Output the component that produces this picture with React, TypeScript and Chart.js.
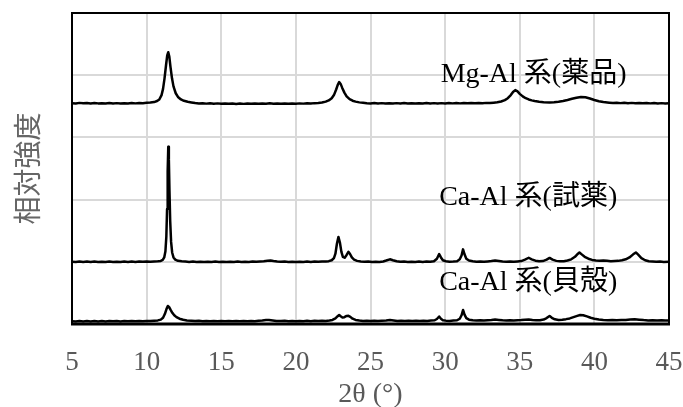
import React, { useEffect, useRef } from "react";
import { Chart, registerables } from "chart.js";

Chart.register(...registerables);

// 2θ (°) vs relative intensity (arbitrary units, stacked traces)
const xTickValues = [5, 10, 15, 20, 25, 30, 35, 40, 45];

const mgAlDrug: [number, number][] = [
  [5, 3.55], [5.25, 3.545], [5.5, 3.555], [5.75, 3.548], [6, 3.552], [6.25, 3.545], [6.5, 3.553], [6.75, 3.547],
  [7, 3.55], [7.25, 3.544], [7.5, 3.552], [7.75, 3.546], [8, 3.551], [8.25, 3.545], [8.5, 3.55], [8.75, 3.546],
  [9, 3.552], [9.25, 3.547], [9.5, 3.553], [9.75, 3.55], [10, 3.556], [10.25, 3.56], [10.5, 3.568], [10.7, 3.585],
  [10.85, 3.61], [11.0, 3.68], [11.1, 3.78], [11.2, 3.95], [11.3, 4.16], [11.38, 4.32], [11.45, 4.37], [11.52, 4.3],
  [11.6, 4.13], [11.7, 3.95], [11.8, 3.82], [11.95, 3.71], [12.1, 3.65], [12.3, 3.61], [12.5, 3.588], [12.75, 3.572],
  [13, 3.562], [13.25, 3.552], [13.5, 3.545], [13.75, 3.55], [14, 3.543], [14.25, 3.548], [14.5, 3.542], [14.75, 3.547],
  [15, 3.54], [15.25, 3.546], [15.5, 3.54], [15.75, 3.545], [16, 3.538], [16.25, 3.544], [16.5, 3.539], [16.75, 3.545],
  [17, 3.54], [17.25, 3.546], [17.5, 3.54], [17.75, 3.545], [18, 3.542], [18.25, 3.548], [18.5, 3.541], [18.75, 3.546],
  [19, 3.54], [19.25, 3.545], [19.5, 3.54], [19.75, 3.546], [20, 3.542], [20.25, 3.547], [20.5, 3.543], [20.75, 3.549],
  [21, 3.545], [21.25, 3.551], [21.5, 3.553], [21.75, 3.56], [22, 3.575], [22.2, 3.595], [22.4, 3.63], [22.55, 3.68],
  [22.7, 3.77], [22.8, 3.84], [22.9, 3.89], [23.0, 3.86], [23.1, 3.8], [23.25, 3.72], [23.4, 3.66], [23.6, 3.615],
  [23.8, 3.59], [24.0, 3.575], [24.25, 3.563], [24.5, 3.556], [24.75, 3.55], [25, 3.546], [25.25, 3.552], [25.5, 3.545],
  [25.75, 3.551], [26, 3.544], [26.25, 3.55], [26.5, 3.545], [26.75, 3.551], [27, 3.546], [27.25, 3.552], [27.5, 3.545],
  [27.75, 3.55], [28, 3.544], [28.25, 3.55], [28.5, 3.546], [28.75, 3.552], [29, 3.546], [29.25, 3.551], [29.5, 3.545],
  [29.75, 3.551], [30, 3.546], [30.25, 3.552], [30.5, 3.547], [30.75, 3.553], [31, 3.547], [31.25, 3.552], [31.5, 3.548],
  [31.75, 3.553], [32, 3.548], [32.25, 3.554], [32.5, 3.549], [32.75, 3.555], [33, 3.552], [33.25, 3.558], [33.5, 3.564],
  [33.75, 3.577], [34, 3.6], [34.2, 3.63], [34.4, 3.68], [34.55, 3.73], [34.7, 3.76], [34.85, 3.74], [35, 3.7],
  [35.2, 3.66], [35.4, 3.63], [35.6, 3.61], [35.8, 3.595], [36, 3.585], [36.3, 3.574], [36.6, 3.566], [37, 3.56],
  [37.3, 3.566], [37.6, 3.574], [37.9, 3.586], [38.2, 3.602], [38.5, 3.62], [38.8, 3.638], [39.1, 3.65], [39.4, 3.645],
  [39.7, 3.626], [40, 3.602], [40.3, 3.582], [40.6, 3.568], [41, 3.558], [41.25, 3.553], [41.5, 3.557], [41.75, 3.551],
  [42, 3.556], [42.25, 3.55], [42.5, 3.555], [42.75, 3.549], [43, 3.554], [43.25, 3.548], [43.5, 3.553], [43.75, 3.547],
  [44, 3.552], [44.25, 3.546], [44.5, 3.551], [44.75, 3.546], [45, 3.55],
];

const caAlReagent: [number, number][] = [
  [5, 1.0], [5.25, 0.995], [5.5, 1.004], [5.75, 0.997], [6, 1.003], [6.25, 0.996], [6.5, 1.004], [6.75, 0.997],
  [7, 1.002], [7.25, 0.996], [7.5, 1.003], [7.75, 0.997], [8, 1.002], [8.25, 0.996], [8.5, 1.003], [8.75, 0.998],
  [9, 1.003], [9.25, 0.997], [9.5, 1.004], [9.75, 0.999], [10, 1.004], [10.25, 1.0], [10.5, 1.005], [10.75, 1.008],
  [10.95, 1.014], [11.08, 1.03], [11.18, 1.07], [11.26, 1.17], [11.32, 1.4], [11.37, 1.85], [11.41, 2.45], [11.45, 2.85],
  [11.49, 2.65], [11.53, 2.15], [11.58, 1.65], [11.64, 1.32], [11.71, 1.15], [11.8, 1.07], [11.92, 1.035], [12.1, 1.016],
  [12.35, 1.008], [12.6, 1.003], [12.85, 0.998], [13.1, 1.003], [13.35, 0.997], [13.6, 1.002], [13.85, 0.996], [14.1, 1.002],
  [14.35, 0.997], [14.6, 1.003], [14.85, 0.997], [15.1, 1.002], [15.35, 0.996], [15.6, 1.002], [15.85, 0.997], [16.1, 1.003],
  [16.35, 0.997], [16.6, 1.002], [16.85, 0.998], [17.1, 1.003], [17.35, 0.999], [17.6, 1.005], [17.85, 1.01], [18.1, 1.018],
  [18.3, 1.02], [18.5, 1.012], [18.75, 1.004], [19, 0.999], [19.25, 1.003], [19.5, 0.997], [19.75, 1.002], [20, 0.996],
  [20.25, 1.002], [20.5, 0.997], [20.75, 1.003], [21, 0.998], [21.25, 1.003], [21.5, 0.999], [21.75, 1.004], [22, 1.005],
  [22.2, 1.01], [22.4, 1.025], [22.55, 1.06], [22.65, 1.13], [22.75, 1.29], [22.85, 1.4], [22.95, 1.31], [23.05, 1.16],
  [23.15, 1.08], [23.27, 1.065], [23.4, 1.11], [23.52, 1.16], [23.62, 1.13], [23.75, 1.07], [23.9, 1.035], [24.1, 1.015],
  [24.35, 1.006], [24.6, 1.0], [24.85, 1.003], [25.1, 0.997], [25.35, 1.002], [25.6, 0.998], [25.85, 1.006], [26.05, 1.02],
  [26.3, 1.04], [26.5, 1.025], [26.75, 1.008], [27, 1.0], [27.25, 1.003], [27.5, 0.997], [27.75, 1.002], [28, 0.997],
  [28.25, 1.003], [28.5, 0.998], [28.75, 1.003], [29, 1.0], [29.25, 1.01], [29.45, 1.05], [29.6, 1.125], [29.72, 1.07],
  [29.85, 1.025], [30.05, 1.008], [30.3, 1.002], [30.55, 1.004], [30.8, 1.01], [30.98, 1.04], [31.1, 1.1], [31.2, 1.2],
  [31.3, 1.12], [31.42, 1.05], [31.6, 1.02], [31.85, 1.008], [32.1, 1.002], [32.35, 1.005], [32.6, 1.0], [32.85, 1.006],
  [33.1, 1.012], [33.35, 1.02], [33.6, 1.012], [33.85, 1.004], [34.1, 1.0], [34.35, 1.005], [34.6, 0.999], [34.85, 1.005],
  [35.1, 1.012], [35.35, 1.035], [35.6, 1.065], [35.8, 1.04], [36.05, 1.018], [36.3, 1.008], [36.55, 1.012], [36.8, 1.035],
  [37.0, 1.062], [37.2, 1.035], [37.45, 1.015], [37.7, 1.008], [37.95, 1.01], [38.2, 1.02], [38.45, 1.04], [38.7, 1.08],
  [38.9, 1.13], [39.0, 1.15], [39.15, 1.12], [39.35, 1.08], [39.6, 1.05], [39.85, 1.03], [40.1, 1.02], [40.35, 1.015],
  [40.6, 1.02], [40.85, 1.016], [41.1, 1.01], [41.35, 1.012], [41.6, 1.015], [41.85, 1.025], [42.1, 1.04], [42.35, 1.07],
  [42.6, 1.12], [42.78, 1.15], [42.95, 1.11], [43.15, 1.06], [43.4, 1.025], [43.65, 1.01], [43.9, 1.004], [44.15, 0.999],
  [44.4, 1.003], [44.65, 0.998], [45, 1.0],
];

const caAlShell: [number, number][] = [
  [5, 0.045], [5.25, 0.04], [5.5, 0.048], [5.75, 0.042], [6, 0.047], [6.25, 0.041], [6.5, 0.048], [6.75, 0.042],
  [7, 0.047], [7.25, 0.041], [7.5, 0.048], [7.75, 0.043], [8, 0.048], [8.25, 0.042], [8.5, 0.048], [8.75, 0.043],
  [9, 0.049], [9.25, 0.043], [9.5, 0.049], [9.75, 0.045], [10, 0.05], [10.25, 0.048], [10.5, 0.053], [10.75, 0.058],
  [10.95, 0.07], [11.1, 0.1], [11.22, 0.16], [11.33, 0.24], [11.42, 0.29], [11.5, 0.275], [11.6, 0.23], [11.72, 0.18],
  [11.85, 0.14], [12.0, 0.11], [12.2, 0.085], [12.45, 0.068], [12.7, 0.058], [13, 0.052], [13.25, 0.047], [13.5, 0.051],
  [13.75, 0.045], [14, 0.05], [14.25, 0.044], [14.5, 0.049], [14.75, 0.044], [15, 0.049], [15.25, 0.043], [15.5, 0.048],
  [15.75, 0.043], [16, 0.049], [16.25, 0.044], [16.5, 0.05], [16.75, 0.045], [17, 0.05], [17.25, 0.046], [17.5, 0.052],
  [17.75, 0.056], [18, 0.063], [18.2, 0.065], [18.45, 0.057], [18.7, 0.05], [19, 0.047], [19.25, 0.051], [19.5, 0.045],
  [19.75, 0.05], [20, 0.045], [20.25, 0.05], [20.5, 0.046], [20.75, 0.051], [21, 0.046], [21.25, 0.051], [21.5, 0.048],
  [21.75, 0.053], [22, 0.05], [22.25, 0.056], [22.45, 0.065], [22.65, 0.09], [22.8, 0.125], [22.9, 0.145], [23.0, 0.125],
  [23.12, 0.105], [23.25, 0.11], [23.4, 0.13], [23.52, 0.132], [23.65, 0.115], [23.8, 0.085], [24.0, 0.065], [24.25, 0.055],
  [24.5, 0.05], [24.75, 0.054], [25, 0.048], [25.25, 0.053], [25.5, 0.048], [25.75, 0.054], [26.05, 0.058], [26.3, 0.065],
  [26.55, 0.057], [26.8, 0.05], [27.05, 0.054], [27.3, 0.048], [27.55, 0.053], [27.8, 0.048], [28.05, 0.053], [28.3, 0.048],
  [28.55, 0.054], [28.8, 0.05], [29.05, 0.055], [29.3, 0.06], [29.45, 0.08], [29.6, 0.12], [29.72, 0.085], [29.85, 0.062],
  [30.05, 0.054], [30.3, 0.05], [30.55, 0.055], [30.8, 0.06], [30.98, 0.085], [31.1, 0.14], [31.2, 0.225], [31.3, 0.15],
  [31.42, 0.095], [31.6, 0.07], [31.85, 0.06], [32.1, 0.055], [32.35, 0.06], [32.6, 0.056], [32.85, 0.062], [33.1, 0.066],
  [33.35, 0.072], [33.6, 0.066], [33.85, 0.06], [34.1, 0.056], [34.35, 0.061], [34.6, 0.057], [34.85, 0.062], [35.1, 0.063],
  [35.35, 0.068], [35.6, 0.072], [35.85, 0.065], [36.1, 0.06], [36.35, 0.062], [36.6, 0.072], [36.8, 0.095], [37.0, 0.13],
  [37.15, 0.1], [37.35, 0.075], [37.6, 0.066], [37.85, 0.07], [38.1, 0.078], [38.35, 0.09], [38.6, 0.11], [38.85, 0.13],
  [39.05, 0.145], [39.25, 0.14], [39.5, 0.122], [39.75, 0.1], [40.0, 0.085], [40.3, 0.072], [40.6, 0.066], [40.9, 0.062],
  [41.2, 0.064], [41.5, 0.06], [41.8, 0.063], [42.1, 0.066], [42.4, 0.072], [42.7, 0.078], [43.0, 0.07], [43.3, 0.063],
  [43.6, 0.058], [43.9, 0.062], [44.2, 0.056], [44.5, 0.06], [44.75, 0.055], [45, 0.058],
];

const seriesLabels = ["Mg-Al 系(薬品)", "Ca-Al 系(試薬)", "Ca-Al 系(貝殻)"];
const labelAnchors: [number, number][] = [
  [29.7, 3.89],
  [29.6, 1.91],
  [29.6, 0.55],
];

const xTitle = "2θ (°)";
const yTitle = "相対強度";

const overlayPlugin = {
  id: "overlay",
  afterDraw(chart: any) {
    const { ctx, chartArea: a, scales } = chart;
    const xs = scales.x;
    const ys = scales.y;
    ctx.save();
    // plot-area border
    ctx.strokeStyle = "#000";
    ctx.lineWidth = 2;
    ctx.strokeRect(a.left, a.top, a.right - a.left, a.bottom - a.top);
    ctx.lineWidth = 3;
    ctx.beginPath();
    ctx.moveTo(a.left - 1, a.bottom);
    ctx.lineTo(a.right + 1, a.bottom);
    ctx.stroke();

    // x tick labels
    ctx.fillStyle = "#595959";
    ctx.font = '27px "Liberation Serif", "Times New Roman", serif';
    ctx.textAlign = "center";
    ctx.textBaseline = "alphabetic";
    xs.ticks.forEach((t: any) => {
      ctx.fillText(String(t.value), xs.getPixelForValue(t.value), a.bottom + 46);
    });
    // x title
    ctx.font = '28px "Liberation Serif", "Times New Roman", serif';
    ctx.fillText(xTitle, (a.left + a.right) / 2, a.bottom + 78);

    // series labels
    ctx.fillStyle = "#000";
    ctx.textAlign = "left";
    ctx.font = '28px "Liberation Serif", "Noto Sans CJK JP", serif';
    seriesLabels.forEach((s, i) => {
      const [lx, ly] = labelAnchors[i];
      ctx.fillText(s, xs.getPixelForValue(lx), ys.getPixelForValue(ly));
    });

    // y title
    ctx.fillStyle = "#666666";
    ctx.font = '28px "Noto Sans CJK JP", sans-serif';
    ctx.translate(27, (a.top + a.bottom) / 2);
    ctx.rotate(-Math.PI / 2);
    ctx.textAlign = "center";
    ctx.textBaseline = "middle";
    ctx.fillText(yTitle, 0, 0);
    ctx.restore();
  },
};

export default function App() {
  const ref = useRef<HTMLCanvasElement | null>(null);
  useEffect(() => {
    document.body.style.margin = "0";
    if (!ref.current) return;
    const mk = (pts: [number, number][]) => ({
      data: pts.map(([x, y]) => ({ x, y })),
      borderColor: "#000",
      borderWidth: 2.5,
      pointRadius: 0,
      tension: 0,
      borderJoinStyle: "round" as const,
      borderCapStyle: "round" as const,
      fill: false,
    });
    const chart = new Chart(ref.current, {
      type: "line",
      data: { datasets: [mk(mgAlDrug), mk(caAlReagent), mk(caAlShell)] },
      options: {
        animation: false,
        responsive: false,
        maintainAspectRatio: false,
        layout: { padding: { top: 13, right: 14, left: 0, bottom: 0 } },
        plugins: { legend: { display: false }, tooltip: { enabled: false } },
        scales: {
          x: {
            type: "linear",
            min: 5,
            max: 45,
            afterBuildTicks: (s: any) => {
              s.ticks = xTickValues.map((v) => ({ value: v }));
            },
            ticks: { display: false },
            grid: { color: "#d9d9d9", lineWidth: 2, drawTicks: false },
            border: { display: false },
            afterFit: (s: any) => {
              s.height = 83;
            },
          },
          y: {
            type: "linear",
            min: 0,
            max: 5,
            ticks: { display: false, stepSize: 1 },
            grid: { color: "#d9d9d9", lineWidth: 2, drawTicks: false },
            border: { display: false },
            afterFit: (s: any) => {
              s.width = 72;
            },
          },
        },
      },
      plugins: [overlayPlugin],
    });
    return () => chart.destroy();
  }, []);
  return (
    <div style={{ position: "absolute", left: 0, top: 0 }}>
      <canvas ref={ref} width={683} height={407} style={{ width: 683, height: 407 }} />
    </div>
  );
}
